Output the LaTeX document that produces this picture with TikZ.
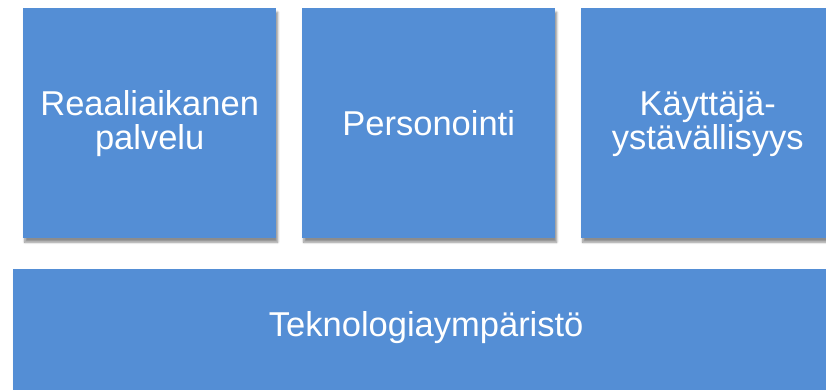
\documentclass[tikz,border=0pt]{standalone}
\usepackage{fontspec}
\setmainfont{Liberation Sans}
\usetikzlibrary{shadows.blur}

\definecolor{tileblue}{RGB}{84,142,213}

\tikzset{
  tile/.style={anchor=north west, fill=tileblue, draw=none, inner sep=0pt,
    text=white, align=center, font=\fontsize{34.5}{34}\selectfont,
    blur shadow={shadow xshift=1.5pt, shadow yshift=-4pt, shadow blur steps=6, shadow opacity=45}},
  tiletext/.style={text=white, align=center, inner sep=0pt, font=\fontsize{34.5}{34}\selectfont},
}

\begin{document}
\begin{tikzpicture}[x=1pt,y=1pt]
    % Page frame
    \useasboundingbox (0,0) rectangle (826,389);

    % Corner points of the tiles
    \coordinate (T1) at (23,381);
    \coordinate (T2) at (302,381);
    \coordinate (T3) at (581,381);
    \coordinate (T4) at (13,120);

    % Upper row
    \node[tile, minimum width=253pt, minimum height=230pt] (palvelu) at (T1) {Reaaliaikanen\\palvelu};
    \node[tile, minimum width=253pt, minimum height=230pt] (personointi) at (T2) {Personointi};
    \node[tile, minimum width=253pt, minimum height=230pt] (kaytto) at (T3) {Käyttäjä-\\ystävällisyys};

    % Base layer (runs past the right and lower edge)
    \node[tile, minimum width=826pt, minimum height=170pt] (tekno) at (T4) {};
    \node[tiletext] (teknolabel) at ([yshift=-59pt]tekno.north) {Teknologiaympäristö};
\end{tikzpicture}
\end{document}
